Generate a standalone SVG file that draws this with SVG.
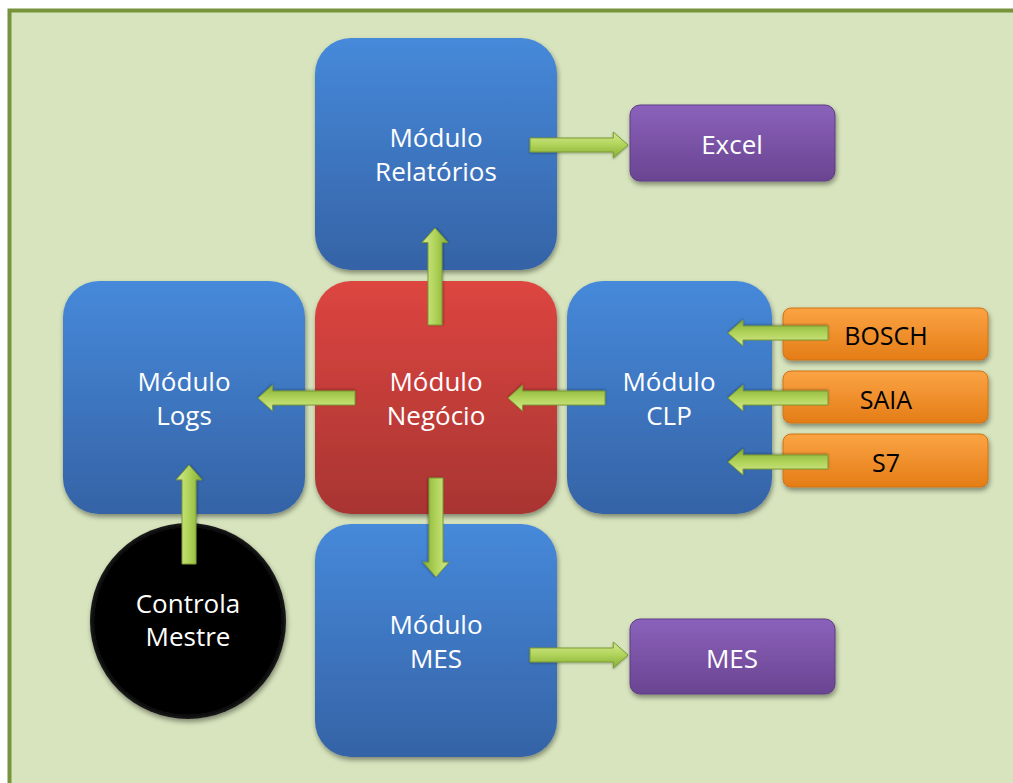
<svg xmlns="http://www.w3.org/2000/svg" width="1013" height="783" viewBox="0 0 1013 783">
<defs>
<linearGradient id="gBlue" x1="0" y1="0" x2="0" y2="1"><stop offset="0" stop-color="#4689DA"/><stop offset="1" stop-color="#3563A6"/></linearGradient>
<linearGradient id="gRed" x1="0" y1="0" x2="0" y2="1"><stop offset="0" stop-color="#DD4540"/><stop offset="1" stop-color="#A83532"/></linearGradient>
<linearGradient id="gPurple" x1="0" y1="0" x2="0" y2="1"><stop offset="0" stop-color="#8A62BB"/><stop offset="1" stop-color="#6A4491"/></linearGradient>
<linearGradient id="gOrange" x1="0" y1="0" x2="0" y2="1"><stop offset="0" stop-color="#FBA344"/><stop offset="1" stop-color="#E47D16"/></linearGradient>
<radialGradient id="gBlack" cx="0.5" cy="0.5" r="0.5"><stop offset="0.94" stop-color="#000"/><stop offset="1" stop-color="#1c1c1c"/></radialGradient>
<linearGradient id="gArrow" x1="0" y1="0" x2="0" y2="1"><stop offset="0" stop-color="#D4EA8E"/><stop offset="0.5" stop-color="#B0D35A"/><stop offset="1" stop-color="#86AE34"/></linearGradient>
<filter id="sh" x="-10%" y="-10%" width="125%" height="125%"><feDropShadow dx="1" dy="3" stdDeviation="2.5" flood-color="#000" flood-opacity="0.4"/></filter>
<filter id="ash" x="-20%" y="-50%" width="140%" height="200%"><feDropShadow dx="0" dy="1" stdDeviation="1" flood-color="#000" flood-opacity="0.3"/></filter>
<path id="arr" d="M0,-7 H85 V-13 L100,0 L85,13 V7 H0 Z"/>
</defs>
<style>
.t{font-family:"Open Sans","Noto Sans","Liberation Sans",sans-serif;font-size:26px;text-anchor:middle;fill:#fff}
.k{font-family:"Open Sans","Noto Sans","Liberation Sans",sans-serif;font-size:25px;text-anchor:middle;fill:#000}
.blue{fill:url(#gBlue);filter:url(#sh)}
.red{fill:url(#gRed);filter:url(#sh)}
.pur{fill:url(#gPurple);stroke:#5E3C84;stroke-width:1;filter:url(#sh)}
.org{fill:url(#gOrange);stroke:#D07215;stroke-width:1;filter:url(#sh)}
.ar{fill:url(#gArrow);stroke:#7A9A32;stroke-width:1;filter:url(#ash)}
</style>
<rect x="0" y="0" width="1013" height="783" fill="#fff"/>
<rect x="9.5" y="10.5" width="1020" height="800" fill="#D7E4BD" stroke="#77933C" stroke-width="4"/>

<g id="relatorios"><rect class="blue" x="315" y="38" width="242" height="232" rx="36"/><text class="t" x="436" y="147">Módulo</text><text class="t" x="436" y="181">Relatórios</text></g>
<g id="logs"><rect class="blue" x="63" y="281" width="242" height="233" rx="36"/><text class="t" x="184" y="391">Módulo</text><text class="t" x="184" y="425">Logs</text></g>
<g id="negocio"><rect class="red" x="315" y="281" width="242" height="233" rx="36"/><text class="t" x="436" y="391">Módulo</text><text class="t" x="436" y="425">Negócio</text></g>
<g id="clp"><rect class="blue" x="567" y="281" width="205" height="233" rx="36"/><text class="t" x="669" y="391">Módulo</text><text class="t" x="669" y="425">CLP</text></g>
<g id="mes-mod"><rect class="blue" x="315" y="524" width="242" height="233" rx="36"/><text class="t" x="436" y="634">Módulo</text><text class="t" x="436" y="668">MES</text></g>
<g id="excel"><rect class="pur" x="630" y="105" width="205" height="76" rx="10"/><text class="t" x="732" y="154">Excel</text></g>
<g id="mes"><rect class="pur" x="630" y="619" width="205" height="75" rx="10"/><text class="t" x="732" y="668">MES</text></g>
<g id="bosch"><rect class="org" x="783" y="308" width="205" height="52" rx="8"/><text class="k" x="886" y="345">BOSCH</text></g>
<g id="saia"><rect class="org" x="783" y="371" width="205" height="52" rx="8"/><text class="k" x="886" y="409">SAIA</text></g>
<g id="s7"><rect class="org" x="783" y="434" width="205" height="53" rx="8"/><text class="k" x="886" y="472">S7</text></g>
<g id="controla"><circle cx="188" cy="621" r="98" fill="url(#gBlack)" filter="url(#sh)"/><text class="t" x="188" y="613">Controla</text><text class="t" x="188" y="646">Mestre</text></g>

<g id="connectors">
<use href="#arr" class="ar" transform="translate(530,145) scale(0.98,1)"/>
<use href="#arr" class="ar" transform="translate(530,655) scale(0.98,1)"/>
<use href="#arr" class="ar" transform="translate(435,325) rotate(-90) scale(0.97,1)"/>
<use href="#arr" class="ar" transform="translate(436,478) rotate(90) scale(0.99,1)"/>
<use href="#arr" class="ar" transform="translate(355,398) rotate(180) scale(0.97,1)"/>
<use href="#arr" class="ar" transform="translate(605,398) rotate(180) scale(0.97,1)"/>
<use href="#arr" class="ar" transform="translate(828,333) rotate(180)"/>
<use href="#arr" class="ar" transform="translate(828,398) rotate(180)"/>
<use href="#arr" class="ar" transform="translate(828,462) rotate(180)"/>
<use href="#arr" class="ar" transform="translate(189,564) rotate(-90) scale(0.99,1)"/>
</g>
</svg>
